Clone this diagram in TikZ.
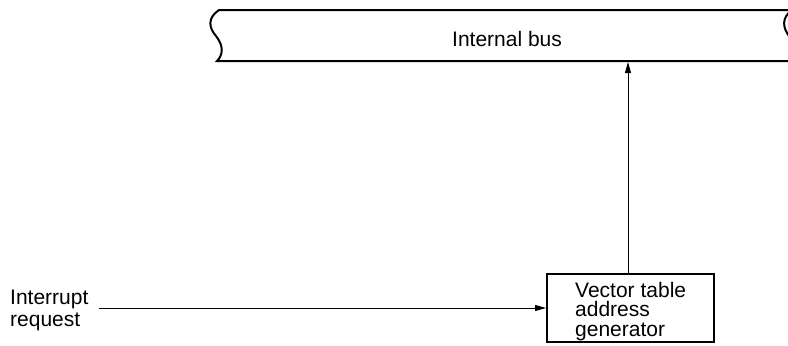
\documentclass[tikz,border=0pt]{standalone}
\usepackage{fontspec}
\setmainfont{Liberation Sans}
\usetikzlibrary{arrows.meta}
\tikzset{
  thickline/.style={line width=2bp, line join=miter},
  conn/.style={line width=0.8bp, -{Triangle[length=11bp,width=6bp]}},
  txt/.style={inner sep=0pt, font=\fontsize{21bp}{22bp}\selectfont, align=left},
  boxtxt/.style={inner sep=0pt, font=\fontsize{21bp}{19.5bp}\selectfont, align=left},
  blk/.style={draw, thickline, minimum width=167bp, minimum height=68bp, inner sep=0pt}
}
\begin{document}
\begin{tikzpicture}[x=1bp,y=-1bp]
  \clip (0,0) rectangle (788,345);
  % internal bus
  \draw[thickline, fill=white]
    (219,10) -- (792,10)
    .. controls (781,18) and (783,28) .. (789,36)
    .. controls (796,46) and (795,55) .. (790,61)
    -- (217,61)
    .. controls (223,55) and (224,46) .. (216,36)
    .. controls (209,28) and (207,18) .. (219,10) -- cycle;
  \coordinate (busbottom) at (0,62);
  \node[txt, anchor=base west] (bus) at (452,46) {Internal bus};
  % vector table address generator
  \node[blk] (box) at (630.5,308) {};
  \node[boxtxt, anchor=north west] (boxtext) at (575,281.7) {Vector table\\address\\generator};
  % interrupt request
  \node[txt, anchor=north west] (irqtext) at (10,290) {Interrupt\\request};
  \coordinate (irq) at (99,308);
  % connectors
  \draw[conn] (irq) -- (box.west);
  \draw[conn] ([xshift=-2.5bp]box.north) -- ([xshift=-2.5bp]box.north |- busbottom);
\end{tikzpicture}
\end{document}
